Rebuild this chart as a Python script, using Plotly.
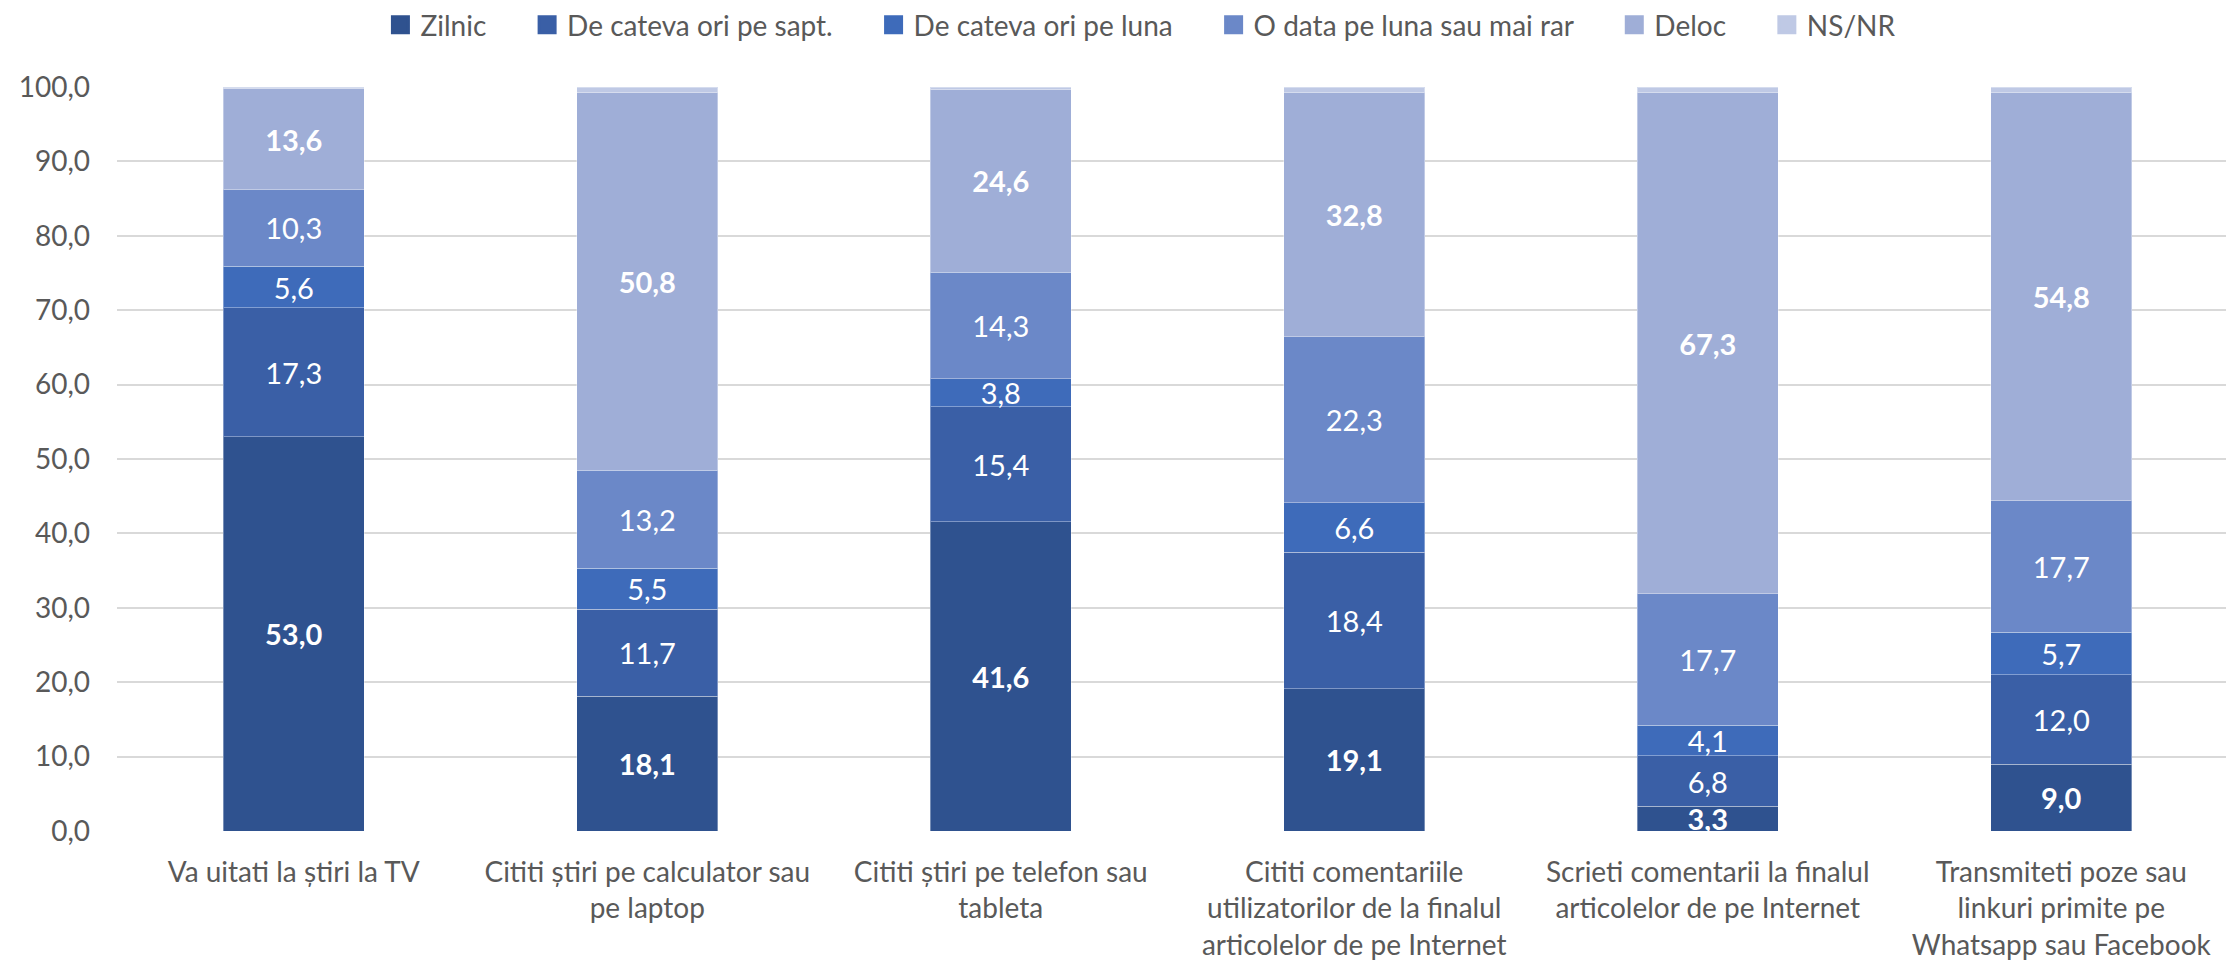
import plotly.graph_objects as go

# Survey categories (x axis)
categories = [
    "Va uitati la știri la TV",
    "Cititi știri pe calculator sau<br>pe laptop",
    "Cititi știri pe telefon sau<br>tableta",
    "Cititi comentariile<br>utilizatorilor de la finalul<br>articolelor de pe Internet",
    "Scrieti comentarii la finalul<br>articolelor de pe Internet",
    "Transmiteti poze sau<br>linkuri primite pe<br>Whatsapp sau Facebook",
]

# Answer frequencies (%)
zilnic = [53.0, 18.1, 41.6, 19.1, 3.3, 9.0]
ori_pe_sapt = [17.3, 11.7, 15.4, 18.4, 6.8, 12.0]
ori_pe_luna = [5.6, 5.5, 3.8, 6.6, 4.1, 5.7]
data_pe_luna = [10.3, 13.2, 14.3, 22.3, 17.7, 17.7]
deloc = [13.6, 50.8, 24.6, 32.8, 67.3, 54.8]
ns_nr = [0.2, 0.7, 0.3, 0.8, 0.8, 0.8]

y_ticks = [0, 10, 20, 30, 40, 50, 60, 70, 80, 90, 100]

series = [
    ("Zilnic", zilnic, "#2F528F", True, True),
    ("De cateva ori pe sapt.", ori_pe_sapt, "#3A5FA6", False, True),
    ("De cateva ori pe luna", ori_pe_luna, "#3E6BBA", False, True),
    ("O data pe luna sau mai rar", data_pe_luna, "#6B88C8", False, True),
    ("Deloc", deloc, "#9FAED7", True, True),
    ("NS/NR", ns_nr, "#BFC9E5", False, False),
]

FONT = "Lato, 'Open Sans', sans-serif"
LEGEND_PAD = "\u00a0" * 5  # extra spacing between legend entries

fig = go.Figure()
for name, vals, color, bold, labelled in series:
    if labelled:
        tmpl = "<b>%{y:.1f}</b>" if bold else "%{y:.1f}"
    else:
        tmpl = ""
    fig.add_trace(go.Bar(
        name=name,
        legendgroup=name,
        showlegend=False,
        x=categories,
        y=vals,
        marker=dict(color=color, line=dict(color="rgba(255,255,255,0.35)", width=1)),
        texttemplate=tmpl,
        textposition="inside" if labelled else "none",
        insidetextanchor="middle",
        textangle=0,
        constraintext="none",
        textfont=dict(family=FONT, size=29, color="white"),
        width=0.4,
        hoverinfo="skip",
    ))

# Legend entries with larger square swatches
for i, (name, vals, color, bold, labelled) in enumerate(series):
    label = name + (LEGEND_PAD if i < len(series) - 1 else "")
    fig.add_trace(go.Scatter(
        name=label,
        legendgroup=name,
        x=[None],
        y=[None],
        mode="markers",
        marker=dict(symbol="square", size=16, color=color, line=dict(color=color, width=3)),
        showlegend=True,
        hoverinfo="skip",
    ))

fig.update_layout(
    barmode="stack",
    width=2226,
    height=966,
    margin=dict(l=117, r=0, t=86, b=135),
    paper_bgcolor="white",
    plot_bgcolor="white",
    separators=", ",
    font=dict(family=FONT, color="#595959"),
    showlegend=True,
    legend=dict(
        orientation="h",
        x=0.4855,
        xanchor="center",
        y=1.083,
        yanchor="middle",
        font=dict(family=FONT, size=28, color="#595959"),
        itemsizing="trace",
        traceorder="normal",
        itemclick=False,
        itemdoubleclick=False,
    ),
)

fig.update_xaxes(
    type="category",
    range=[-0.5, 5.466],
    showgrid=False,
    showline=False,
    zeroline=False,
    ticks="",
    tickfont=dict(family=FONT, size=28, color="#595959"),
    ticklabelstandoff=22,
)

fig.update_yaxes(
    range=[0, 100],
    tickvals=y_ticks,
    tickformat=".1f",
    showgrid=True,
    gridcolor="#D9D9D9",
    gridwidth=2,
    showline=False,
    zeroline=False,
    ticks="",
    tickfont=dict(family=FONT, size=28, color="#595959"),
    ticklabelstandoff=26,
)

fig.write_html("out.html")
